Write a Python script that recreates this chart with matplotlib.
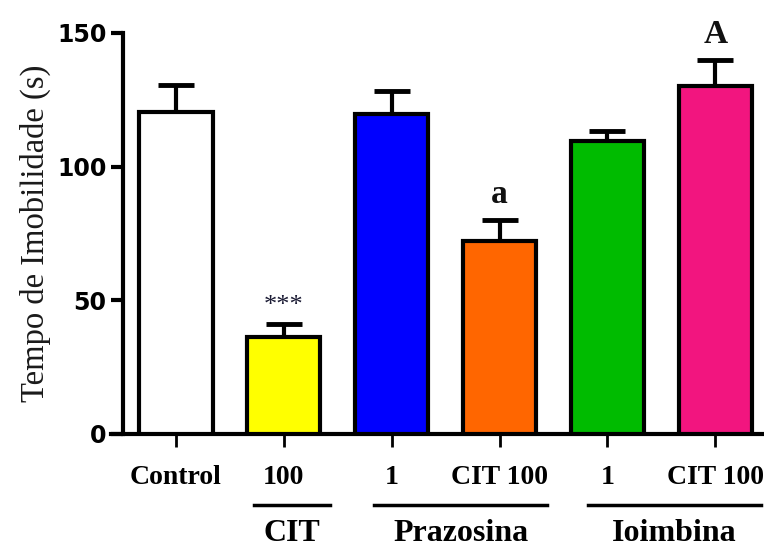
import matplotlib
matplotlib.use("Agg")
import matplotlib.pyplot as plt
import matplotlib.transforms as mtransforms

# dados
labels = ['Control', '100', '1', 'CIT 100', '1', 'CIT 100']
medias = [120.5, 36.3, 119.7, 72.2, 109.5, 130.0]
erros = [10.0, 5.0, 8.6, 7.8, 4.0, 9.7]
cores = ['#ffffff', '#ffff00', '#0000ff', '#ff6600', '#00bb00', '#f2157f']
marcas = ['', '***', '', 'a', '', 'A']
grupos = ['CIT', 'Prazosina', 'Ioimbina']
grupo_lim = [(0.72, 1.43), (1.84, 3.44), (3.82, 5.42)]

SERIF = 'Liberation Serif'

fig = plt.figure(figsize=(7.64, 5.49), dpi=100)
ax = fig.add_axes([0.161, 0.2095, 0.836, 0.7305])

x = list(range(len(medias)))
ax.bar(x, medias, width=0.68, color=cores, edgecolor='black', linewidth=3, zorder=3)
ax.errorbar(x, medias, yerr=[[0] * len(erros), erros], fmt='none', ecolor='black',
            elinewidth=3, capsize=13, capthick=3.5, zorder=2)

for xi, m, e, t in zip(x, medias, erros, marcas):
    if not t:
        continue
    if t == '***':
        ax.text(xi, m + e + 4.5, t, ha='center', va='baseline', fontsize=19,
                family=SERIF, color='#1a1a33', clip_on=False)
    else:
        ax.text(xi, m + e + 6.5, t, ha='center', va='baseline', fontsize=24,
                family=SERIF, fontweight='bold', color='#111111', clip_on=False)

ax.set_xlim(-0.49, 5.43)
ax.set_ylim(0, 150)
ax.set_yticks([0, 50, 100, 150])
ax.set_yticklabels(['0', '50', '100', '150'], fontsize=17, fontweight='bold',
                   family='DejaVu Sans')
ax.set_xticks(x)
ax.set_xticklabels(labels, fontsize=20, fontweight='bold', family=SERIF)

for s in ['top', 'right']:
    ax.spines[s].set_visible(False)
for s in ['left', 'bottom']:
    ax.spines[s].set_linewidth(3)
ax.spines['bottom'].set_bounds(-0.6, 5.43)
ax.tick_params(axis='y', length=9, width=3, pad=3)
ax.tick_params(axis='x', length=9, width=2, pad=13)

ax.set_ylabel('Tempo de Imobilidade (s)', fontsize=23.5, family=SERIF,
              color='#1a1a1a', labelpad=4)

trans = mtransforms.blended_transform_factory(ax.transData, ax.transAxes)
for nome, (a, b) in zip(grupos, grupo_lim):
    ax.plot([a, b], [-0.178, -0.178], color='black', linewidth=2.5,
            transform=trans, clip_on=False)
    ax.text((a + b) / 2, -0.266, nome, transform=trans, ha='center', va='baseline',
            fontsize=23, fontweight='bold', family=SERIF)

fig.savefig('out.png', dpi=100)
